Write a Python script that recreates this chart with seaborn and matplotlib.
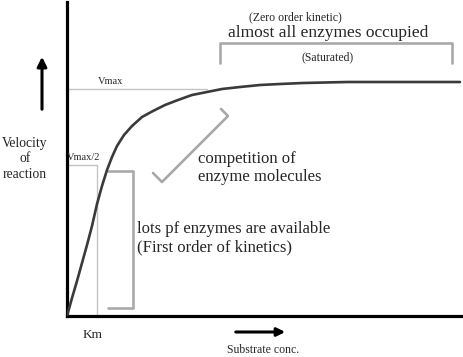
import matplotlib
matplotlib.use("Agg")
import matplotlib.pyplot as plt
import seaborn as sns
import pandas as pd

# Data (arbitrary units)
substrate = [0, 5, 10, 15, 20, 25, 30, 35, 40, 45, 50, 57, 65, 75, 86, 98,
             111, 125, 140, 155, 173, 193, 213, 236, 280, 393]
velocity = [0, 18, 35, 53, 71, 90, 112, 130, 146, 159, 170, 181, 190, 199, 205, 211,
            216, 221, 224, 227, 229, 231, 232, 233, 234, 234]
vmax = 227
vmax_half = 151
km = 30

sns.set_theme(style="white")
plt.rcParams["font.family"] = ["Liberation Serif", "DejaVu Serif"]

W, H = 464, 357
fig = plt.figure(figsize=(W / 100, H / 100), dpi=100)
ax = fig.add_axes([67 / W, 41 / H, 395 / W, 314 / H])
ax.set_xlim(0, 395)
ax.set_ylim(0, 314)

df = pd.DataFrame({"Substrate": substrate, "Velocity": velocity})

# Vmax and Vmax/2 guide lines
ax.plot([0, 140], [vmax, vmax], color="#c4c4c4", lw=1.0, zorder=1)
ax.plot([0, km, km], [vmax_half, vmax_half, 0], color="#c4c4c4", lw=1.0, zorder=1)

sns.lineplot(data=df, x="Substrate", y="Velocity", ax=ax, color="#3a3a3a",
             lw=1.9, sort=False, zorder=3)

# Brackets
bcol = "#a9a9a9"
ax.plot([41, 66, 66, 41], [145, 145, 8, 8], color=bcol, lw=1.9, clip_on=False)
ax.plot([153, 153, 385, 385], [253, 273, 273, 253], color=bcol, lw=1.9, clip_on=False)
ax.plot([86, 95, 161, 154], [143, 134, 200, 207], color=bcol, lw=1.9, clip_on=False)

for s in ["top", "right"]:
    ax.spines[s].set_visible(False)
for s in ["left", "bottom"]:
    ax.spines[s].set_color("black")
    ax.spines[s].set_linewidth(2.3)
ax.set_xticks([])
ax.set_yticks([])
ax.set_xlabel("")
ax.set_ylabel("")

# Texts
ax.text(228, 299, "(Zero order kinetic)", ha="center", va="center", fontsize=8.5, clip_on=False)
ax.text(261, 283, "almost all enzymes occupied", ha="center", va="center", fontsize=12.5, clip_on=False)
ax.text(261, 259, "(Saturated)", ha="center", va="center", fontsize=8.5, clip_on=False)
ax.text(44, 235, "Vmax", ha="center", va="center", fontsize=7.5)
ax.text(17, 159, "Vmax/2", ha="center", va="center", fontsize=7.5)
ax.text(131, 148, "competition of\nenzyme molecules", ha="left", va="center",
        fontsize=12, linespacing=1.1)
ax.text(70, 78, "lots pf enzymes are available\n(First order of kinetics)", ha="left",
        va="center", fontsize=12, linespacing=1.15)
ax.text(-42, 157, "Velocity\nof\nreaction", ha="center", va="center", fontsize=9.8,
        linespacing=1.3, clip_on=False)
ax.text(26, -19, "Km", ha="center", va="center", fontsize=9.5, clip_on=False)
ax.text(196, -34, "Substrate conc.", ha="center", va="center", fontsize=8.5, clip_on=False)

# Arrows
ax.annotate("", xy=(-25, 262), xytext=(-25, 204), annotation_clip=False,
            arrowprops=dict(arrowstyle="-|>", color="black", lw=2.2, mutation_scale=14))
ax.annotate("", xy=(221, -16), xytext=(166, -16), annotation_clip=False,
            arrowprops=dict(arrowstyle="-|>", color="black", lw=2.2, mutation_scale=12))

fig.savefig("out.png", dpi=100)
